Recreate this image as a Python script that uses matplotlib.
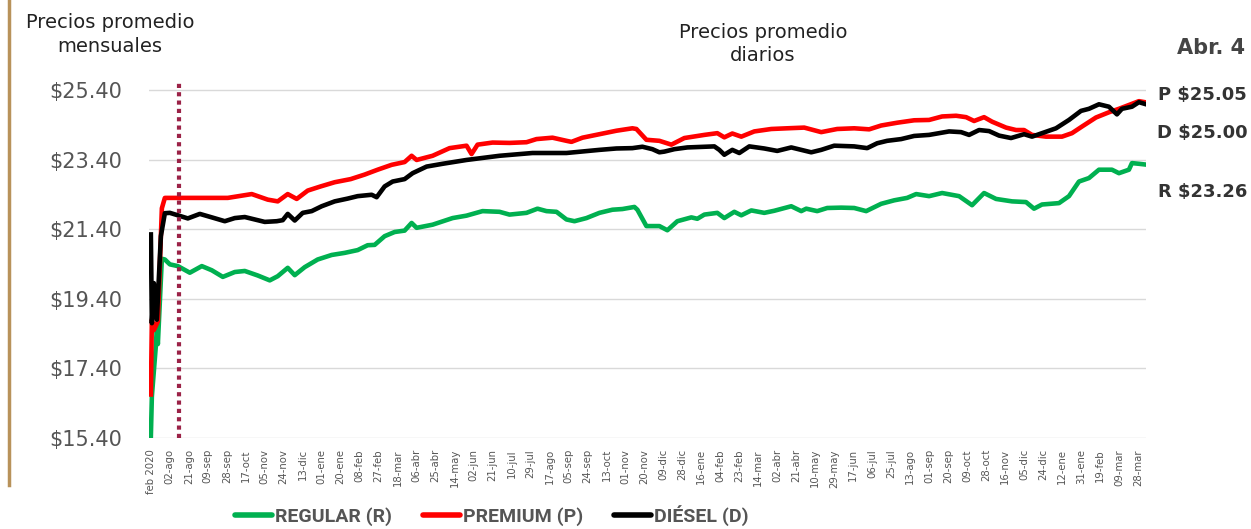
import matplotlib
matplotlib.use('Agg')
import matplotlib.pyplot as plt
from matplotlib.lines import Line2D

# tick labels (first one monthly, the rest every 19 days)
tick_labels = ['feb 2020', '02-ago', '21-ago', '09-sep', '28-sep', '17-oct', '05-nov', '24-nov',
               '13-dic', '01-ene', '20-ene', '08-feb', '27-feb', '18-mar', '06-abr', '25-abr',
               '14-may', '02-jun', '21-jun', '10-jul', '29-jul', '17-ago', '05-sep', '24-sep',
               '13-oct', '01-nov', '20-nov', '09-dic', '28-dic', '16-ene', '04-feb', '23-feb',
               '14-mar', '02-abr', '21-abr', '10-may', '29-may', '17-jun', '06-jul', '25-jul',
               '13-ago', '01-sep', '20-sep', '09-oct', '28-oct', '16-nov', '05-dic', '24-dic',
               '12-ene', '31-ene', '19-feb', '09-mar', '28-mar']
tick_step = 19
split_pos = 28  # fin de precios mensuales

# (posicion, precio)
regular = [(0, 15.45), (1, 16.6), (5, 18.05), (6, 18.6), (7, 18.1), (11, 20.55), (14, 20.53),
           (19, 20.39), (27, 20.34), (39, 20.15), (51, 20.34), (61, 20.22), (72, 20.03),
           (84, 20.17), (94, 20.20), (107, 20.07), (119, 19.93), (127, 20.05), (137, 20.29),
           (144, 20.08), (154, 20.31), (167, 20.53), (181, 20.66), (194, 20.72), (207, 20.80),
           (217, 20.94), (224, 20.95), (234, 21.20), (244, 21.32), (254, 21.36), (261, 21.58),
           (266, 21.44), (282, 21.53), (302, 21.72), (316, 21.79), (332, 21.92), (349, 21.90),
           (359, 21.82), (376, 21.87), (387, 21.99), (396, 21.92), (406, 21.90), (416, 21.68),
           (424, 21.63), (436, 21.72), (449, 21.87), (462, 21.96), (472, 21.98), (484, 22.04),
           (487, 21.96), (496, 21.49), (509, 21.49), (517, 21.37), (527, 21.63), (541, 21.74),
           (547, 21.70), (554, 21.82), (567, 21.87), (574, 21.72), (584, 21.90), (591, 21.80),
           (601, 21.94), (614, 21.87), (624, 21.93), (641, 22.06), (651, 21.92), (656, 21.99),
           (667, 21.92), (677, 22.01), (691, 22.02), (704, 22.01), (716, 21.92), (731, 22.13),
           (744, 22.23), (757, 22.30), (766, 22.41), (779, 22.35), (792, 22.44), (809, 22.35),
           (822, 22.09), (834, 22.44), (846, 22.27), (862, 22.20), (876, 22.18), (884, 21.99),
           (892, 22.11), (909, 22.15), (919, 22.35), (929, 22.77), (939, 22.87), (949, 23.11),
           (962, 23.11), (969, 23.01), (979, 23.11), (982, 23.30), (989, 23.28), (995, 23.26)]

premium = [(0, 16.65), (1, 18.8), (3, 18.5), (7, 18.75), (11, 22.0), (14, 22.3), (40, 22.30),
           (77, 22.30), (101, 22.41), (117, 22.25), (127, 22.2), (137, 22.41), (146, 22.27),
           (157, 22.51), (170, 22.63), (184, 22.75), (200, 22.84), (214, 22.97), (227, 23.11),
           (241, 23.25), (254, 23.33), (261, 23.51), (266, 23.39), (282, 23.51), (299, 23.73),
           (316, 23.80), (321, 23.56), (327, 23.83), (342, 23.89), (359, 23.88), (376, 23.90),
           (386, 23.99), (402, 24.03), (416, 23.94), (421, 23.91), (432, 24.03), (449, 24.13),
           (466, 24.23), (482, 24.30), (486, 24.28), (496, 23.97), (509, 23.94), (521, 23.83),
           (534, 24.02), (554, 24.11), (567, 24.16), (574, 24.04), (582, 24.15), (591, 24.06),
           (604, 24.21), (621, 24.28), (637, 24.30), (654, 24.32), (671, 24.19), (687, 24.28),
           (704, 24.30), (719, 24.27), (731, 24.38), (747, 24.46), (764, 24.53), (779, 24.54),
           (792, 24.64), (806, 24.66), (816, 24.62), (824, 24.51), (834, 24.62), (842, 24.49),
           (856, 24.32), (866, 24.25), (874, 24.25), (882, 24.11), (896, 24.06), (912, 24.06),
           (922, 24.16), (932, 24.35), (946, 24.61), (959, 24.76), (969, 24.86), (979, 24.97),
           (989, 25.08), (995, 25.05)]

diesel = [(0, 21.25), (1, 18.7), (3, 19.85), (6, 18.8), (10, 21.2), (14, 21.86), (19, 21.87),
          (27, 21.80), (37, 21.71), (49, 21.84), (61, 21.74), (74, 21.63), (84, 21.72),
          (94, 21.75), (104, 21.68), (114, 21.61), (126, 21.63), (132, 21.66), (137, 21.84),
          (144, 21.65), (152, 21.87), (161, 21.92), (171, 22.06), (184, 22.20), (197, 22.28),
          (207, 22.35), (221, 22.39), (226, 22.32), (234, 22.63), (242, 22.77), (254, 22.84),
          (262, 23.01), (276, 23.20), (292, 23.28), (316, 23.39), (349, 23.51), (382, 23.59),
          (416, 23.59), (449, 23.68), (466, 23.72), (482, 23.73), (492, 23.77), (502, 23.70),
          (509, 23.61), (514, 23.63), (524, 23.70), (537, 23.75), (564, 23.78), (569, 23.68),
          (574, 23.54), (582, 23.68), (589, 23.59), (599, 23.78), (614, 23.72), (627, 23.65),
          (641, 23.75), (661, 23.61), (671, 23.68), (684, 23.80), (704, 23.78), (717, 23.73),
          (727, 23.87), (737, 23.94), (751, 23.99), (764, 24.08), (779, 24.11), (799, 24.21),
          (811, 24.19), (819, 24.11), (829, 24.25), (839, 24.22), (849, 24.09), (861, 24.02),
          (874, 24.13), (882, 24.06), (892, 24.16), (906, 24.30), (919, 24.54), (931, 24.80),
          (939, 24.86), (949, 24.99), (959, 24.92), (967, 24.70), (972, 24.86), (982, 24.92),
          (989, 25.05), (995, 25.00)]

y_ticks = [15.4, 17.4, 19.4, 21.4, 23.4, 25.4]
end_labels = ['P $25.05', 'D $25.00', 'R $23.26']

series = [(regular, '#00b050', 'REGULAR (R)'),
          (premium, '#ff0000', 'PREMIUM (P)'),
          (diesel, '#000000', 'DIÉSEL (D)')]

fig = plt.figure(figsize=(12.51, 5.29), dpi=100)
ax = fig.add_axes([0.119, 0.172, 0.797, 0.671])

for data, color, name in series:
    xs = [p for p, v in data]
    ys = [v for p, v in data]
    ax.plot(xs, ys, color=color, lw=3.3, solid_joinstyle='round', zorder=3)

ax.axvline(split_pos, color='#9b2247', lw=3, linestyle=(0, (1, 1)), zorder=4)

ax.set_ylim(15.4, 25.6)
ax.set_xlim(-2, 996)
ax.set_yticks(y_ticks)
ax.set_yticklabels(['${:.2f}'.format(v) for v in y_ticks], fontsize=15, color='#555555')
ax.set_xticks([i * tick_step for i in range(len(tick_labels))])
ax.set_xticklabels(tick_labels, rotation=90, fontsize=7.3, color='#555555')
ax.tick_params(axis='both', length=0)
ax.tick_params(axis='y', pad=19)
ax.tick_params(axis='x', pad=8)
ax.grid(axis='y', color='#d9d9d9', lw=1)
ax.set_axisbelow(True)
for s in ax.spines.values():
    s.set_visible(False)

# textos
fig.text(0.088, 0.935, 'Precios promedio\nmensuales', ha='center', va='center',
         fontsize=14, color='#222222', linespacing=1.3)
fig.text(0.61, 0.917, 'Precios promedio\ndiarios', ha='center', va='center',
         fontsize=14, color='#222222', linespacing=1.3)
fig.text(0.995, 0.91, 'Abr. 4', ha='right', va='center', fontsize=15,
         fontweight='bold', color='#444444')
for lab, yy in zip(end_labels, [0.82, 0.748, 0.637]):
    fig.text(0.997, yy, lab, ha='right', va='center', fontsize=13,
             fontweight='bold', color='#333333')

# linea dorada a la izquierda
fig.add_artist(Line2D([0.0075, 0.0075], [0.083, 1.0], color='#b8925a', lw=2.5))

handles = [Line2D([], [], color=c, lw=4, solid_capstyle='round') for d, c, n in series]
leg = fig.legend(handles, [n for d, c, n in series], loc='center', bbox_to_anchor=(0.393, 0.025),
                 ncol=3, frameon=False, handlelength=1.9, handletextpad=0.15,
                 columnspacing=1.6, prop={'family': 'Roboto', 'weight': 'bold', 'size': 14})
for t in leg.get_texts():
    t.set_color('#555555')

plt.savefig('out.png', dpi=100)
